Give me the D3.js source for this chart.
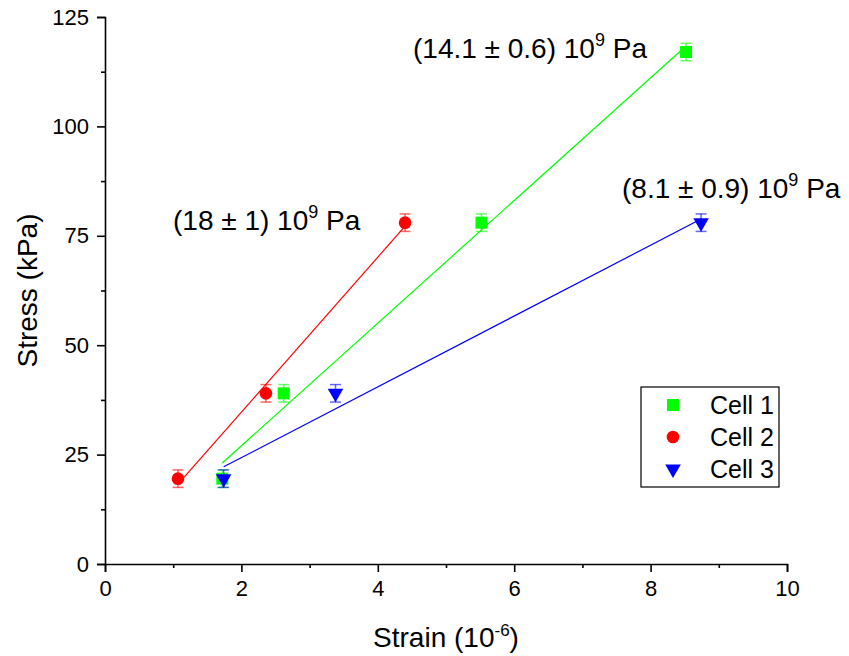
<!DOCTYPE html>
<html>
<head>
<meta charset="utf-8">
<script src="https://cdn.jsdelivr.net/npm/d3@7"></script>
<style>
  body { margin: 0; background: #fff; }
  svg { display: block; font-family: "Liberation Sans", Arial, sans-serif; }
</style>
</head>
<body>
<svg id="chart" width="849" height="656"></svg>
<script>
// ---- Data ----
const cell1Strain = [1.72, 2.62, 5.52, 8.52];
const cell1Stress = [19.5, 39, 78, 117];
const cell2Strain = [1.07, 2.36, 4.40];
const cell2Stress = [19.5, 39, 78];
const cell3Strain = [1.74, 3.38, 8.74];
const cell3Stress = [19.5, 39, 78];
const stressError = 2;
const seriesNames = ["Cell 1", "Cell 2", "Cell 3"];
const modulusLabels = ["(14.1 \u00B1 0.6) 10", "(18 \u00B1 1) 10", "(8.1 \u00B1 0.9) 10"];
const xTicks = [0, 2, 4, 6, 8, 10];
const yTicks = [0, 25, 50, 75, 100, 125];

// ---- Layout ----
const W = 849, H = 656;
const margin = { left: 105, right: 62, top: 17, bottom: 92 };
const svg = d3.select("#chart");
const x = d3.scaleLinear().domain([0, 10]).range([margin.left, W - margin.right]);
const y = d3.scaleLinear().domain([0, 125]).range([H - margin.bottom, margin.top]);

const series = [
  { name: seriesNames[0], xs: cell1Strain, ys: cell1Stress, color: "#00ff00", symbol: d3.symbolSquare, size: 144, rot: 0,
    label: modulusLabels[0], lx: 413, ly: 58 },
  { name: seriesNames[1], xs: cell2Strain, ys: cell2Stress, color: "#ff0000", symbol: d3.symbolCircle, size: 125, rot: 0,
    label: modulusLabels[1], lx: 173, ly: 230 },
  { name: seriesNames[2], xs: cell3Strain, ys: cell3Stress, color: "#0000ff", symbol: d3.symbolTriangle, size: 105, rot: 180,
    label: modulusLabels[2], lx: 622, ly: 198 }
];

// least-squares linear fit
function fit(xs, ys) {
  const mx = d3.mean(xs), my = d3.mean(ys);
  let sxx = 0, sxy = 0;
  xs.forEach((v, i) => { sxx += (v - mx) ** 2; sxy += (v - mx) * (ys[i] - my); });
  const b = sxy / sxx;
  return { b, a: my - b * mx };
}

// ---- Fit lines ----
series.forEach(s => {
  const f = fit(s.xs, s.ys);
  const x0 = d3.min(s.xs), x1 = d3.max(s.xs);
  svg.append("line")
    .attr("x1", x(x0)).attr("y1", y(f.a + f.b * x0))
    .attr("x2", x(x1)).attr("y2", y(f.a + f.b * x1))
    .attr("stroke", s.color).attr("stroke-width", 1.2);
});

// ---- Points + error bars ----
series.forEach(s => {
  const g = svg.append("g");
  s.xs.forEach((xv, i) => {
    const cx = x(xv), cy = y(s.ys[i]);
    const top = y(s.ys[i] + stressError), bot = y(s.ys[i] - stressError);
    const eb = g.append("g").attr("stroke", s.color).attr("stroke-opacity", 0.6).attr("stroke-width", 1.5);
    eb.append("line").attr("x1", cx).attr("x2", cx).attr("y1", top).attr("y2", bot);
    eb.append("line").attr("x1", cx - 5.5).attr("x2", cx + 5.5).attr("y1", top).attr("y2", top);
    eb.append("line").attr("x1", cx - 5.5).attr("x2", cx + 5.5).attr("y1", bot).attr("y2", bot);
    g.append("path")
      .attr("d", d3.symbol().type(s.symbol).size(s.size)())
      .attr("transform", `translate(${cx},${cy}) rotate(${s.rot})`)
      .attr("fill", s.color);
  });
});

// ---- Axes ----
const axisFont = 22;
const xAxis = svg.append("g").attr("transform", `translate(0,${y(0)})`)
  .call(d3.axisBottom(x).tickValues(xTicks).tickFormat(d3.format("d")).tickSize(8).tickPadding(8));
const xMinor = svg.append("g").attr("transform", `translate(0,${y(0)})`)
  .call(d3.axisBottom(x).tickValues(d3.range(1, 10, 2)).tickFormat("").tickSize(4));
const yAxis = svg.append("g").attr("transform", `translate(${x(0)},0)`)
  .call(d3.axisLeft(y).tickValues(yTicks).tickFormat(d3.format("d")).tickSize(8).tickPadding(8));
const yMinor = svg.append("g").attr("transform", `translate(${x(0)},0)`)
  .call(d3.axisLeft(y).tickValues(d3.range(12.5, 125, 25)).tickFormat("").tickSize(4));
[xAxis, xMinor, yAxis, yMinor].forEach(a => {
  a.attr("font-size", axisFont).attr("font-family", "Liberation Sans, Arial, sans-serif");
  a.select(".domain").attr("stroke", "#000").attr("stroke-width", 1.6);
  a.selectAll(".tick line").attr("stroke", "#000").attr("stroke-width", 1.6);
  a.selectAll("text").attr("font-size", axisFont).attr("fill", "#000");
});
xMinor.select(".domain").remove();
yMinor.select(".domain").remove();

// ---- Axis titles ----
const xt = svg.append("text").attr("x", x(5)).attr("y", 647).attr("text-anchor", "middle")
  .attr("font-size", 28).attr("fill", "#000");
xt.append("tspan").text("Strain (10");
xt.append("tspan").attr("dy", -11).attr("font-size", 17).text("-6");
xt.append("tspan").attr("dy", 11).text(")");

svg.append("text").attr("transform", `translate(37,${y(62.5)}) rotate(-90)`)
  .attr("text-anchor", "middle").attr("font-size", 28).attr("fill", "#000")
  .text("Stress (kPa)");

// ---- Modulus annotations ----
series.forEach(s => {
  const t = svg.append("text").attr("x", s.lx).attr("y", s.ly).attr("font-size", 28).attr("fill", "#000");
  t.append("tspan").text(s.label);
  t.append("tspan").attr("dy", -12).attr("font-size", 18).text("9");
  t.append("tspan").attr("dy", 12).text(" Pa");
});

// ---- Legend ----
const lg = svg.append("g");
lg.append("rect").attr("x", 641).attr("y", 387).attr("width", 138).attr("height", 100)
  .attr("fill", "#fff").attr("stroke", "#000").attr("stroke-width", 1.2);
series.forEach((s, i) => {
  const ry = 405 + i * 32;
  lg.append("path")
    .attr("d", d3.symbol().type(s.symbol).size(s.size)())
    .attr("transform", `translate(673,${ry}) rotate(${s.rot})`)
    .attr("fill", s.color);
  lg.append("text").attr("x", 710).attr("y", ry).attr("dy", "0.35em")
    .attr("font-size", 25).attr("fill", "#000").text(s.name);
});
</script>
</body>
</html>
